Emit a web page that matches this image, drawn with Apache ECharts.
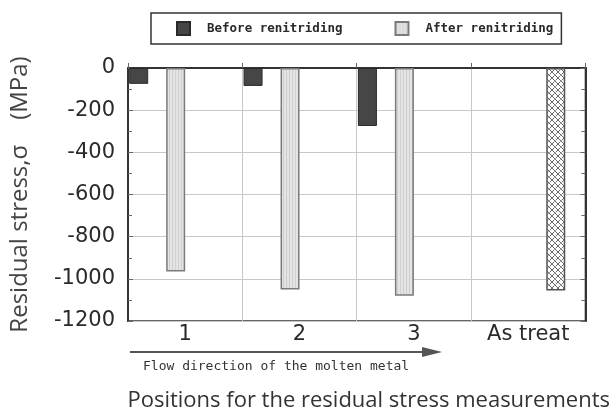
<!DOCTYPE html>
<html>
<head>
<meta charset="utf-8">
<script src="https://cdn.jsdelivr.net/npm/echarts@6/dist/echarts.min.js"></script>
<style>html,body{margin:0;padding:0;background:#fff;}#c{width:611px;height:417px;}</style>
</head>
<body>
<div id="c"></div>
<script>
// ---- data ----
const categories = ['1', '2', '3', 'As treat'];
const beforeValues = [-75, -85, -275, '-'];
const afterValues = [-965, -1050, -1080, '-'];
const asTreatValues = ['-', '-', '-', -1055];
const yTicks = { min: -1200, max: 0, interval: 200 };
const seriesNames = ['Before renitriding', 'After renitriding', 'As treat'];

// ---- patterns ----
function stripePattern() {
  const c = document.createElement('canvas');
  c.width = 3; c.height = 3;
  const g = c.getContext('2d');
  g.fillStyle = '#e4e4e4'; g.fillRect(0, 0, 3, 3);
  g.fillStyle = '#cfcfcf'; g.fillRect(1, 0, 1, 3);
  return c;
}
function hatchPattern() {
  const c = document.createElement('canvas');
  c.width = 6; c.height = 6;
  const g = c.getContext('2d');
  g.fillStyle = '#ffffff'; g.fillRect(0, 0, 6, 6);
  g.strokeStyle = '#6a6a6a'; g.lineWidth = 1;
  g.beginPath();
  g.moveTo(0, 0); g.lineTo(6, 6);
  g.moveTo(6, 0); g.lineTo(3.5, 2.5);
  g.moveTo(2.5, 3.5); g.lineTo(0, 6);
  g.stroke();
  return c;
}

const chart = echarts.init(document.getElementById('c'), null, { renderer: 'canvas' });
const labelFont = 'DejaVu Sans';
const axisCommon = {
  type: 'value', min: yTicks.min, max: yTicks.max, interval: yTicks.interval,
  axisLine: { show: true, lineStyle: { color: '#333', width: 2 } },
  axisTick: { show: true, inside: true, length: 5, lineStyle: { color: '#666' } },
  minorTick: { show: true, splitNumber: 2, length: 4, lineStyle: { color: '#666' } }
};

chart.setOption({
  animation: false,
  backgroundColor: '#fff',
  grid: { left: 124, right: 25, top: 68, bottom: 96, show: true, borderColor: '#333', borderWidth: 1.5, backgroundColor: 'transparent' },
  legend: {
    data: [seriesNames[0], seriesNames[1]],
    left: 151, top: 13,
    padding: [8, 8, 8, 25],
    itemWidth: 13, itemHeight: 13, itemGap: 52,
    borderColor: '#333', borderWidth: 1.5,
    icon: 'rect',
    textStyle: { fontFamily: 'DejaVu Sans Mono', fontSize: 12.5, fontWeight: 'bold', color: '#2a2a2a', padding: [0, 0, 0, 12] }
  },
  xAxis: {
    type: 'category', data: categories,
    axisLine: { show: true, lineStyle: { color: '#333', width: 2 } },
    axisTick: { show: true, inside: true, length: 5, lineStyle: { color: '#666' } },
    splitLine: { show: true, lineStyle: { color: '#c8c8c8', width: 1 } },
    axisLabel: { fontFamily: labelFont, fontSize: 21, color: '#2a2a2a', margin: 3 },
    name: 'Positions for the residual stress measurements',
    nameLocation: 'middle', nameGap: 69,
    nameTextStyle: { fontFamily: 'Open Sans', fontSize: 22, color: '#333', padding: [0, 0, 0, 24] }
  },
  yAxis: [
    Object.assign({}, axisCommon, {
      position: 'left',
      splitLine: { show: true, lineStyle: { color: '#c8c8c8', width: 1 } },
      axisLabel: { fontFamily: labelFont, fontSize: 21, color: '#2a2a2a', margin: 13, formatter: function (v) { return String(v); } },
      name: 'Residual stress,σ    (MPa)',
      nameLocation: 'middle', nameRotate: 90, nameGap: 96,
      nameTextStyle: { fontFamily: 'Open Sans', fontSize: 24, color: '#444' }
    }),
    Object.assign({}, axisCommon, {
      position: 'right',
      splitLine: { show: false },
      axisLabel: { show: false }
    })
  ],
  series: [
    {
      name: seriesNames[0], type: 'bar', data: beforeValues, barWidth: 19, barGap: '94.7%',
      itemStyle: { color: '#464646', borderColor: '#2a2a2a', borderWidth: 1 }
    },
    {
      name: seriesNames[1], type: 'bar', data: afterValues, barWidth: 19, barGap: '94.7%',
      itemStyle: { color: { image: stripePattern(), repeat: 'repeat' }, borderColor: '#7a7a7a', borderWidth: 1.5 }
    },
    {
      name: seriesNames[2], type: 'bar', data: asTreatValues, barWidth: 19, barGap: '94.7%',
      itemStyle: { color: { image: hatchPattern(), repeat: 'repeat' }, borderColor: '#555', borderWidth: 1.5 }
    },
    { name: 'spacer', type: 'bar', data: [], barWidth: 1, barGap: '94.7%' }
  ],
  graphic: [
    { type: 'line', shape: { x1: 130, y1: 352, x2: 426, y2: 352 }, style: { stroke: '#555', lineWidth: 2 } },
    { type: 'polygon', shape: { points: [[422, 347], [442, 352], [422, 357]] }, style: { fill: '#555' } },
    { type: 'text', x: 143, y: 367, style: { text: 'Flow direction of the molten metal', font: '13px "DejaVu Sans Mono"', fill: '#333', verticalAlign: 'middle' } }
  ]
});
</script>
</body>
</html>
